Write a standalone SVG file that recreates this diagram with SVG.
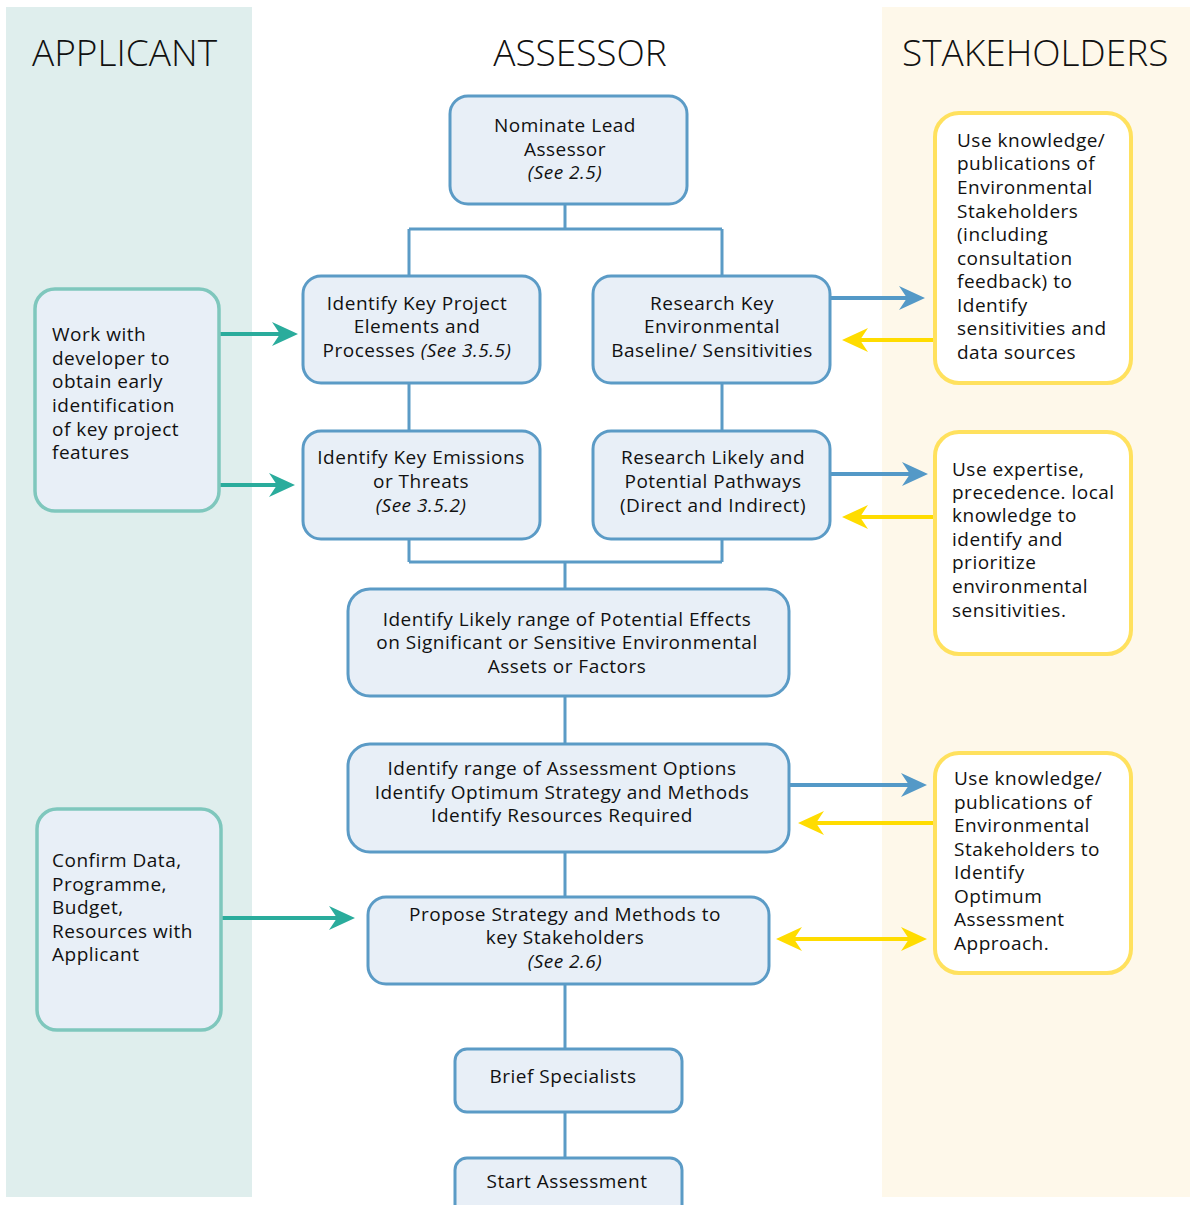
<svg xmlns="http://www.w3.org/2000/svg" width="1190" height="1205" viewBox="0 0 1190 1205">
<style>
.hdr{font-family:"Open Sans","Noto Sans","Liberation Sans",sans-serif;font-size:37px;font-weight:300;fill:#111;}
.t{font-family:"Open Sans","Noto Sans","Liberation Sans",sans-serif;font-size:19px;letter-spacing:0.5px;fill:#111;}
.c{text-anchor:middle;}
.i{font-style:italic;}
.nb{fill:#e8eff7;stroke:#5b9bc6;stroke-width:3;}
.na{fill:#e8eff7;stroke:#7fc7bd;stroke-width:3.5;}
.ns{fill:#ffffff;stroke:#ffe15e;stroke-width:4;}
.conn{fill:none;stroke:#5b9bc6;stroke-width:3;}
.at{fill:none;stroke:#2aac9c;stroke-width:4;marker-end:url(#mt);}
.ab{fill:none;stroke:#5499c7;stroke-width:4;marker-end:url(#mb);}
.ay{fill:none;stroke:#ffdc00;stroke-width:4;marker-end:url(#my);}
.ay2{fill:none;stroke:#ffdc00;stroke-width:4;marker-end:url(#my);marker-start:url(#my);}
</style>
<defs>
<marker id="mt" viewBox="0 0 26 26" refX="8" refY="13" markerWidth="26" markerHeight="26" markerUnits="userSpaceOnUse" orient="auto-start-reverse"><path d="M0,1 L26,13 L0,25 L8,13 z" fill="#2aac9c"/></marker>
<marker id="mb" viewBox="0 0 26 26" refX="8" refY="13" markerWidth="26" markerHeight="26" markerUnits="userSpaceOnUse" orient="auto-start-reverse"><path d="M0,1 L26,13 L0,25 L8,13 z" fill="#5499c7"/></marker>
<marker id="my" viewBox="0 0 26 26" refX="8" refY="13" markerWidth="26" markerHeight="26" markerUnits="userSpaceOnUse" orient="auto-start-reverse"><path d="M0,1 L26,13 L0,25 L8,13 z" fill="#ffdc00"/></marker>
</defs>
<rect width="1190" height="1205" fill="#ffffff"/>
<g id="lanes">
<rect x="6" y="7" width="246" height="1190" fill="#dfeeed"/>
<rect x="882" y="7" width="308" height="1190" fill="#fef8ea"/>
<text class="hdr" x="32" y="66">APPLICANT</text>
<text class="hdr c" x="580" y="66">ASSESSOR</text>
<text class="hdr" x="902" y="66">STAKEHOLDERS</text>
</g>
<g id="connectors">
<path class="conn" d="M565,204 V229 M409,229 H722 M409,229 V276 M722,229 V276"/>
<path class="conn" d="M409,383 V431 M722,383 V431"/>
<path class="conn" d="M409,539 V562 M722,539 V562 M409,562 H722 M565,562 V589"/>
<path class="conn" d="M565,696 V744 M565,852 V897 M565,984 V1049 M565,1112 V1158"/>
<path class="at" d="M219,334 H280"/>
<path class="at" d="M219,485 H277"/>
<path class="at" d="M221,918 H337"/>
<path class="ab" d="M830,298 H907"/>
<path class="ab" d="M830,474 H910"/>
<path class="ab" d="M789,785 H909"/>
<path class="ay" d="M935,340 H860"/>
<path class="ay" d="M935,517 H860"/>
<path class="ay" d="M935,823 H816"/>
<path class="ay2" d="M794,939 H909"/>
</g>
<g id="n-nominate">
<rect class="nb" x="450" y="96" width="237" height="108" rx="18"/>
<text class="t c" x="565" y="132">Nominate Lead</text>
<text class="t c" x="565" y="156">Assessor</text>
<text class="t c i" x="565" y="179">(See 2.5)</text>
</g>
<g id="n-project">
<rect class="nb" x="303" y="276" width="237" height="107" rx="18"/>
<text class="t c" x="417" y="310">Identify Key Project</text>
<text class="t c" x="417" y="333">Elements and</text>
<text class="t c" x="417" y="357">Processes <tspan class="i">(See 3.5.5)</tspan></text>
</g>
<g id="n-baseline">
<rect class="nb" x="593" y="276" width="237" height="107" rx="18"/>
<text class="t c" x="712" y="310">Research Key</text>
<text class="t c" x="712" y="333">Environmental</text>
<text class="t c" x="712" y="357">Baseline/ Sensitivities</text>
</g>
<g id="n-emissions">
<rect class="nb" x="303" y="431" width="237" height="108" rx="18"/>
<text class="t c" x="421" y="464">Identify Key Emissions</text>
<text class="t c" x="421" y="488">or Threats</text>
<text class="t c i" x="421" y="512">(See 3.5.2)</text>
</g>
<g id="n-pathways">
<rect class="nb" x="593" y="431" width="237" height="108" rx="18"/>
<text class="t c" x="713" y="464">Research Likely and</text>
<text class="t c" x="713" y="488">Potential Pathways</text>
<text class="t c" x="713" y="512">(Direct and Indirect)</text>
</g>
<g id="n-effects">
<rect class="nb" x="348" y="589" width="441" height="107" rx="22"/>
<text class="t c" x="567" y="626">Identify Likely range of Potential Effects</text>
<text class="t c" x="567" y="649">on Significant or Sensitive Environmental</text>
<text class="t c" x="567" y="673">Assets or Factors</text>
</g>
<g id="n-options">
<rect class="nb" x="348" y="744" width="441" height="108" rx="22"/>
<text class="t c" x="562" y="775">Identify range of Assessment Options</text>
<text class="t c" x="562" y="799">Identify Optimum Strategy and Methods</text>
<text class="t c" x="562" y="822">Identify Resources Required</text>
</g>
<g id="n-propose">
<rect class="nb" x="368" y="897" width="401" height="87" rx="18"/>
<text class="t c" x="565" y="921">Propose Strategy and Methods to</text>
<text class="t c" x="565" y="944">key Stakeholders</text>
<text class="t c i" x="565" y="968">(See 2.6)</text>
</g>
<g id="n-brief">
<rect class="nb" x="455" y="1049" width="227" height="63" rx="12"/>
<text class="t c" x="563" y="1083">Brief Specialists</text>
</g>
<g id="n-start">
<rect class="nb" x="455" y="1158" width="227" height="60" rx="12"/>
<text class="t c" x="567" y="1188">Start Assessment</text>
</g>
<g id="a-work">
<rect class="na" x="35" y="289" width="184" height="222" rx="20"/>
<text class="t" x="52" y="341">Work with</text>
<text class="t" x="52" y="365">developer to</text>
<text class="t" x="52" y="388">obtain early</text>
<text class="t" x="52" y="412">identification</text>
<text class="t" x="52" y="436">of key project</text>
<text class="t" x="52" y="459">features</text>
</g>
<g id="a-confirm">
<rect class="na" x="37" y="809" width="184" height="221" rx="20"/>
<text class="t" x="52" y="867">Confirm Data,</text>
<text class="t" x="52" y="891">Programme,</text>
<text class="t" x="52" y="914">Budget,</text>
<text class="t" x="52" y="938">Resources with</text>
<text class="t" x="52" y="961">Applicant</text>
</g>
<g id="s-knowledge1">
<rect class="ns" x="935" y="113" width="196" height="270" rx="24"/>
<text class="t" x="957" y="147">Use knowledge/</text>
<text class="t" x="957" y="170">publications of</text>
<text class="t" x="957" y="194">Environmental</text>
<text class="t" x="957" y="218">Stakeholders</text>
<text class="t" x="957" y="241">(including</text>
<text class="t" x="957" y="265">consultation</text>
<text class="t" x="957" y="288">feedback) to</text>
<text class="t" x="957" y="312">Identify</text>
<text class="t" x="957" y="335">sensitivities and</text>
<text class="t" x="957" y="359">data sources</text>
</g>
<g id="s-expertise">
<rect class="ns" x="935" y="432" width="196" height="222" rx="24"/>
<text class="t" x="952" y="476">Use expertise,</text>
<text class="t" x="952" y="499">precedence. local</text>
<text class="t" x="952" y="522">knowledge to</text>
<text class="t" x="952" y="546">identify and</text>
<text class="t" x="952" y="569">prioritize</text>
<text class="t" x="952" y="593">environmental</text>
<text class="t" x="952" y="617">sensitivities.</text>
</g>
<g id="s-knowledge2">
<rect class="ns" x="935" y="753" width="196" height="220" rx="24"/>
<text class="t" x="954" y="785">Use knowledge/</text>
<text class="t" x="954" y="809">publications of</text>
<text class="t" x="954" y="832">Environmental</text>
<text class="t" x="954" y="856">Stakeholders to</text>
<text class="t" x="954" y="879">Identify</text>
<text class="t" x="954" y="903">Optimum</text>
<text class="t" x="954" y="926">Assessment</text>
<text class="t" x="954" y="950">Approach.</text>
</g>
</svg>
